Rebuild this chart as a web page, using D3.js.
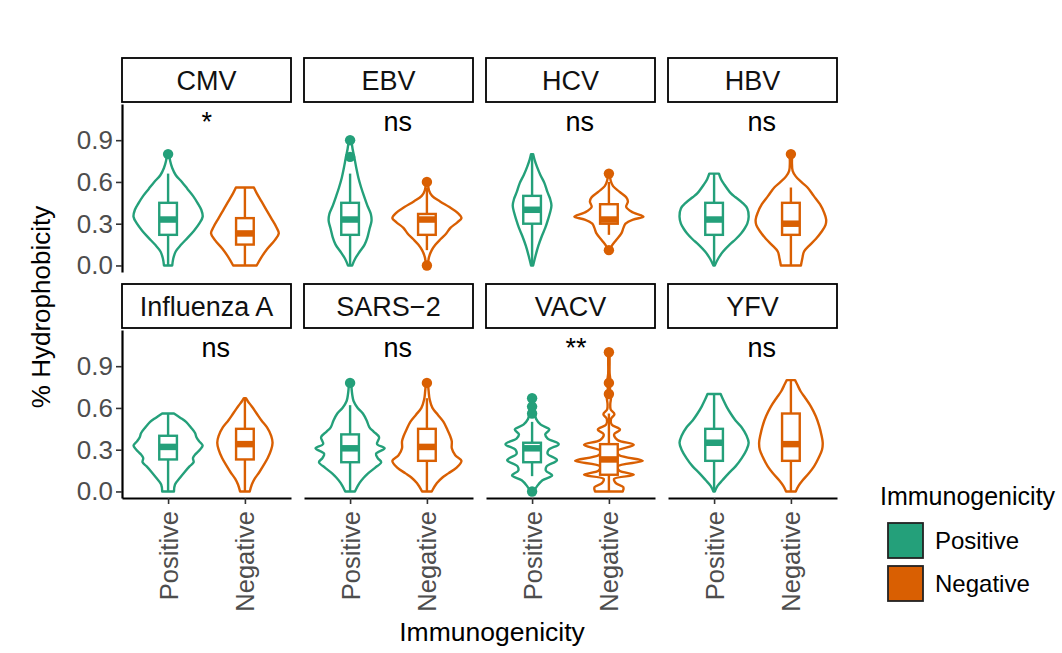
<!DOCTYPE html>
<html>
<head>
<meta charset="utf-8">
<script src="https://cdn.jsdelivr.net/npm/d3@7"></script>
<style>
  body { margin: 0; background: #fff; }
  text { font-family: "Liberation Sans", Arial, sans-serif; }
</style>
</head>
<body>
<div id="chart"></div>
<script>
'use strict';

// facets, groups and annotations
var viruses = ['CMV', 'EBV', 'HCV', 'HBV', 'Influenza A', 'SARS\u22122', 'VACV', 'YFV'];
var groups = ['Positive', 'Negative'];
var signif = ['*', 'ns', 'ns', 'ns', 'ns', 'ns', '**', 'ns'];
var yTicks = [0, 0.3, 0.6, 0.9];

// box stats per virus: [lower whisker, q1, median, q3, upper whisker]
var boxPositive = [
  [0, 0.22, 0.33, 0.45, 0.66],
  [0, 0.22, 0.33, 0.45, 0.66],
  [0, 0.30, 0.40, 0.50, 0.80],
  [0, 0.22, 0.33, 0.45, 0.66],
  [0, 0.23, 0.32, 0.40, 0.56],
  [0, 0.21, 0.31, 0.41, 0.62],
  [0.11, 0.21, 0.31, 0.35, 0.50],
  [0, 0.22, 0.35, 0.45, 0.70]
];
var boxNegative = [
  [0, 0.15, 0.23, 0.34, 0.56],
  [0.11, 0.22, 0.33, 0.37, 0.56],
  [0.22, 0.30, 0.33, 0.44, 0.60],
  [0, 0.22, 0.30, 0.45, 0.56],
  [0, 0.23, 0.34, 0.45, 0.67],
  [0, 0.22, 0.32, 0.45, 0.67],
  [0, 0.12, 0.23, 0.34, 0.56],
  [0, 0.22, 0.34, 0.56, 0.80]
];

var outliersPositive = [[0.80], [0.90, 0.78], [], [], [], [0.78], [0.67, 0.61, 0.56, 0.0], []];
var outliersNegative = [[], [0.60, 0.0], [0.66, 0.11], [0.80], [], [0.78], [1.0, 0.78, 0.70], []];

// violin outlines: [value, relative half width]
var violinPositive = [
  [[0,0.12],[0.05,0.15],[0.1,0.22],[0.15,0.38],[0.2,0.57],[0.25,0.75],[0.3,0.9],[0.35,1.0],[0.4,0.96],[0.45,0.85],[0.5,0.72],[0.55,0.56],[0.6,0.4],[0.65,0.22],[0.7,0.12],[0.75,0.06],[0.8,0.03]],
  [[0,0.06],[0.05,0.15],[0.1,0.28],[0.15,0.42],[0.2,0.5],[0.26,0.56],[0.32,0.62],[0.37,0.6],[0.43,0.5],[0.5,0.4],[0.56,0.32],[0.63,0.24],[0.7,0.18],[0.78,0.12],[0.84,0.07],[0.9,0.04]],
  [[0,0.03],[0.07,0.1],[0.14,0.18],[0.21,0.28],[0.27,0.38],[0.33,0.46],[0.38,0.52],[0.43,0.56],[0.48,0.52],[0.53,0.44],[0.59,0.36],[0.65,0.24],[0.71,0.14],[0.76,0.07],[0.8,0.03]],
  [[0,0.02],[0.05,0.12],[0.10,0.26],[0.15,0.45],[0.19,0.63],[0.23,0.78],[0.26,0.87],[0.30,0.96],[0.35,1.0],[0.41,0.96],[0.45,0.82],[0.49,0.62],[0.52,0.48],[0.58,0.3],[0.62,0.2],[0.66,0.14]],
  [[0,0.17],[0.05,0.2],[0.1,0.35],[0.14,0.48],[0.18,0.62],[0.21,0.74],[0.24,0.72],[0.27,0.8],[0.3,0.92],[0.33,1.0],[0.36,0.9],[0.39,0.82],[0.42,0.78],[0.46,0.66],[0.5,0.52],[0.53,0.35],[0.56,0.17]],
  [[0,0.14],[0.06,0.27],[0.1,0.4],[0.13,0.52],[0.17,0.72],[0.21,0.9],[0.24,0.8],[0.27,0.75],[0.31,1.0],[0.34,0.78],[0.39,0.84],[0.43,0.68],[0.46,0.56],[0.51,0.48],[0.56,0.37],[0.6,0.22],[0.65,0.1],[0.7,0.06],[0.78,0.03]],
  [[0,0.05],[0.04,0.15],[0.08,0.3],[0.115,0.58],[0.15,0.4],[0.18,0.42],[0.225,0.72],[0.27,0.45],[0.30,0.48],[0.34,0.77],[0.38,0.45],[0.41,0.38],[0.445,0.5],[0.48,0.25],[0.52,0.12],[0.555,0.08],[0.6,0.05],[0.67,0.04]],
  [[0,0.02],[0.04,0.1],[0.08,0.24],[0.13,0.42],[0.18,0.62],[0.24,0.8],[0.3,0.94],[0.35,1.0],[0.4,0.94],[0.46,0.8],[0.51,0.62],[0.56,0.48],[0.61,0.36],[0.66,0.26],[0.7,0.19]]
];
var violinNegative = [
  [[0,0.34],[0.06,0.48],[0.12,0.65],[0.18,0.86],[0.23,0.98],[0.28,0.9],[0.34,0.76],[0.4,0.62],[0.46,0.48],[0.52,0.34],[0.56,0.26]],
  [[0,0.03],[0.03,0.04],[0.06,0.06],[0.11,0.14],[0.15,0.25],[0.19,0.4],[0.23,0.56],[0.27,0.68],[0.31,0.88],[0.34,1.0],[0.38,0.88],[0.42,0.65],[0.46,0.38],[0.5,0.15],[0.54,0.06],[0.6,0.03]],
  [[0.11,0.03],[0.14,0.08],[0.18,0.2],[0.23,0.36],[0.27,0.42],[0.30,0.48],[0.33,0.7],[0.35,1.0],[0.38,0.7],[0.42,0.5],[0.46,0.55],[0.49,0.5],[0.53,0.3],[0.57,0.12],[0.61,0.05],[0.66,0.03]],
  [[0,0.29],[0.05,0.33],[0.1,0.38],[0.15,0.56],[0.19,0.72],[0.24,0.88],[0.29,1.0],[0.33,1.02],[0.38,0.96],[0.44,0.84],[0.5,0.66],[0.56,0.48],[0.6,0.3],[0.64,0.14],[0.68,0.05],[0.74,0.03],[0.8,0.04]],
  [[0,0.14],[0.05,0.2],[0.09,0.28],[0.14,0.42],[0.18,0.52],[0.24,0.66],[0.3,0.76],[0.35,0.8],[0.4,0.76],[0.46,0.64],[0.51,0.48],[0.56,0.34],[0.61,0.2],[0.65,0.08],[0.67,0.03]],
  [[0,0.14],[0.06,0.29],[0.1,0.45],[0.13,0.62],[0.17,0.85],[0.22,1.0],[0.26,0.82],[0.31,0.72],[0.36,0.72],[0.4,0.67],[0.45,0.58],[0.5,0.48],[0.55,0.32],[0.6,0.16],[0.66,0.08],[0.72,0.05],[0.78,0.03]],
  [[0,0.40],[0.03,0.42],[0.06,0.2],[0.09,0.15],[0.12,0.72],[0.15,0.3],[0.18,0.25],[0.22,0.98],[0.26,0.3],[0.29,0.22],[0.335,0.72],[0.37,0.25],[0.41,0.15],[0.445,0.32],[0.48,0.08],[0.52,0.06],[0.555,0.16],[0.59,0.05],[0.63,0.04],[0.67,0.06],[0.7,0.05],[0.74,0.03],[0.78,0.05],[0.85,0.02],[0.92,0.02],[1.0,0.02]],
  [[0,0.14],[0.04,0.22],[0.08,0.34],[0.13,0.52],[0.18,0.67],[0.24,0.8],[0.3,0.9],[0.35,0.92],[0.41,0.88],[0.47,0.82],[0.54,0.72],[0.61,0.58],[0.67,0.42],[0.72,0.28],[0.77,0.18],[0.8,0.12]]
];

var colors = { Positive: '#24a07a', Negative: '#d95f02' };

var width = 1062, height = 653;
var panelW = 169, panelH = 168, stripH = 44;
var colLeft = [122, 304, 486, 668];
var rowTop = [104, 330];

var svg = d3.select('#chart').append('svg').attr('width', width).attr('height', height);

var x = d3.scalePoint().domain(groups).range([0, panelW]).padding(0.6);
var y = d3.scaleLinear().domain([-0.047, 1.16]).range([panelH, 0]);
var halfUnit = x.step() * 0.45;
var boxHalf = x.step() * 0.115;

var violinArea = d3.area()
  .curve(d3.curveCatmullRom)
  .y(function (d) { return y(d[0]); });

viruses.forEach(function (name, i) {
  var row = Math.floor(i / 4), col = i % 4;
  var g = svg.append('g').attr('transform', 'translate(' + colLeft[col] + ',' + rowTop[row] + ')');

  // strip
  g.append('rect').attr('x', 0).attr('y', -stripH - 2).attr('width', panelW).attr('height', stripH)
    .attr('fill', '#fff').attr('stroke', '#000').attr('stroke-width', 1.8);
  g.append('text').attr('x', panelW / 2).attr('y', -stripH / 2 - 2).attr('dy', '0.36em')
    .attr('text-anchor', 'middle').style('font-size', '27px').attr('fill', '#111').text(name);

  groups.forEach(function (grp) {
    var cx = x(grp);
    var col_ = colors[grp];
    var prof = grp === 'Positive' ? violinPositive[i] : violinNegative[i];
    var st = grp === 'Positive' ? boxPositive[i] : boxNegative[i];
    var outs = grp === 'Positive' ? outliersPositive[i] : outliersNegative[i];

    g.append('path').datum(prof)
      .attr('d', violinArea.x0(function (d) { return cx - d[1] * halfUnit; }).x1(function (d) { return cx + d[1] * halfUnit; }))
      .attr('fill', '#fff').attr('stroke', col_).attr('stroke-width', 2.4).attr('stroke-linejoin', 'round');

    // whiskers
    g.append('line').attr('x1', cx).attr('x2', cx).attr('y1', y(st[0])).attr('y2', y(st[1]))
      .attr('stroke', col_).attr('stroke-width', 2.4);
    g.append('line').attr('x1', cx).attr('x2', cx).attr('y1', y(st[3])).attr('y2', y(st[4]))
      .attr('stroke', col_).attr('stroke-width', 2.4);
    // box
    g.append('rect').attr('x', cx - boxHalf).attr('width', boxHalf * 2)
      .attr('y', y(st[3])).attr('height', y(st[1]) - y(st[3]))
      .attr('fill', '#fff').attr('stroke', col_).attr('stroke-width', 2.4);
    g.append('line').attr('x1', cx - boxHalf).attr('x2', cx + boxHalf).attr('y1', y(st[2])).attr('y2', y(st[2]))
      .attr('stroke', col_).attr('stroke-width', 6.5);

    outs.forEach(function (v) {
      g.append('circle').attr('cx', cx).attr('cy', y(v)).attr('r', 5.2).attr('fill', col_);
    });
  });

  // significance label
  var mid = (x(groups[0]) + x(groups[1])) / 2;
  g.append('text').attr('x', mid - 5).attr('y', y(0.965))
    .style('font-size', '27px').attr('fill', '#000').text(signif[i]);

  // axes
  if (col === 0) {
    var ya = g.append('g').call(d3.axisLeft(y).tickValues(yTicks).tickFormat(d3.format('.1f')).tickSize(6).tickSizeOuter(0).tickPadding(3));
    ya.select('.domain').attr('stroke', '#000').attr('stroke-width', 2.2);
    ya.selectAll('.tick line').attr('stroke', '#333').attr('stroke-width', 1.6);
    ya.selectAll('.tick text').style('font-size', '26px').attr('fill', '#4d4d4d');
  }
  if (row === 1) {
    var xa = g.append('g').attr('transform', 'translate(0,' + panelH + ')')
      .call(d3.axisBottom(x).tickSize(6).tickSizeOuter(0));
    xa.select('.domain').attr('stroke', '#000').attr('stroke-width', 2.2);
    xa.selectAll('.tick line').attr('stroke', '#333').attr('stroke-width', 1.6);
    xa.selectAll('.tick text').attr('transform', 'rotate(-90)').attr('x', -13).attr('y', 0)
      .attr('dy', '0.35em').attr('text-anchor', 'end').style('font-size', '25.5px').attr('fill', '#4d4d4d');
  }
});

// axis titles
svg.append('text').attr('transform', 'translate(50,307) rotate(-90)').attr('text-anchor', 'middle')
  .style('font-size', '26px').attr('fill', '#000').text('% Hydrophobicity');
svg.append('text').attr('x', 492).attr('y', 641).attr('text-anchor', 'middle')
  .style('font-size', '26.5px').attr('fill', '#000').text('Immunogenicity');

// legend
var lg = svg.append('g').attr('transform', 'translate(880,0)');
lg.append('text').attr('x', 0).attr('y', 505).style('font-size', '25px').attr('fill', '#000').text('Immunogenicity');
groups.forEach(function (grp, k) {
  var ky = 523 + k * 43;
  lg.append('rect').attr('x', 8).attr('y', ky).attr('width', 35).attr('height', 35)
    .attr('fill', colors[grp]).attr('stroke', '#222').attr('stroke-width', 1.8);
  lg.append('text').attr('x', 55).attr('y', ky + 17.5).attr('dy', '0.36em')
    .style('font-size', '24px').attr('fill', '#000').text(grp);
});
</script>
</body>
</html>
